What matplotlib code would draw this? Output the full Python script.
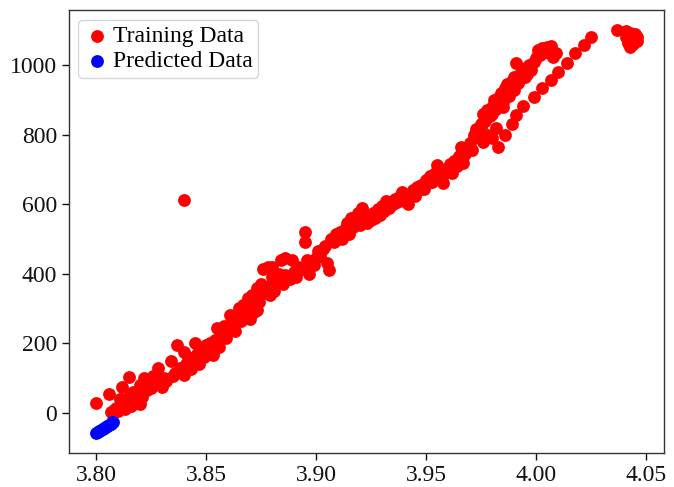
import matplotlib
matplotlib.use("Agg")
import matplotlib.pyplot as plt
from matplotlib.ticker import FormatStrFormatter

plt.rcParams['font.family'] = ['Liberation Serif', 'DejaVu Serif']

train_x = [3.800, 3.806, 3.807, 3.808, 3.809, 3.810, 3.811, 3.811, 3.812, 3.813, 3.814, 3.815, 3.815, 3.816, 3.817,
           3.818, 3.819, 3.820, 3.820, 3.821, 3.822, 3.823, 3.824, 3.825, 3.826, 3.827, 3.828, 3.829, 3.830, 3.831,
           3.832, 3.834, 3.835, 3.836, 3.837, 3.838, 3.839, 3.840, 3.840, 3.841, 3.842, 3.843, 3.844, 3.845, 3.846,
           3.847, 3.848, 3.849, 3.850, 3.851, 3.852, 3.853, 3.854, 3.855, 3.856, 3.857, 3.858, 3.859, 3.860, 3.861,
           3.862, 3.863, 3.864, 3.865, 3.866, 3.867, 3.868, 3.869, 3.870, 3.871, 3.872, 3.873, 3.874, 3.875, 3.876,
           3.877, 3.878, 3.879, 3.880, 3.880, 3.881, 3.882, 3.883, 3.884, 3.885, 3.886, 3.886, 3.888, 3.889, 3.890,
           3.891, 3.892, 3.894, 3.895, 3.895, 3.896, 3.897, 3.898, 3.899, 3.900, 3.901, 3.902, 3.903, 3.904, 3.905,
           3.906, 3.907, 3.908, 3.909, 3.910, 3.911, 3.912, 3.913, 3.914, 3.915, 3.916, 3.917, 3.918, 3.919, 3.920,
           3.921, 3.922, 3.923, 3.924, 3.925, 3.926, 3.927, 3.928, 3.929, 3.930, 3.931, 3.932, 3.933, 3.935, 3.936,
           3.937, 3.938, 3.939, 3.940, 3.941, 3.942, 3.943, 3.944, 3.945, 3.946, 3.947, 3.948, 3.949, 3.950, 3.951,
           3.952, 3.953, 3.954, 3.955, 3.956, 3.957, 3.958, 3.959, 3.960, 3.961, 3.962, 3.963, 3.964, 3.965, 3.966,
           3.967, 3.968, 3.969, 3.970, 3.971, 3.972, 3.973, 3.974, 3.975, 3.976, 3.976, 3.977, 3.978, 3.978, 3.979,
           3.980, 3.980, 3.981, 3.982, 3.982, 3.983, 3.984, 3.985, 3.986, 3.987, 3.988, 3.989, 3.990, 3.991, 3.992,
           3.993, 3.994, 3.995, 3.996, 3.997, 3.998, 3.999, 4.000, 4.001, 4.002, 4.003, 4.004, 4.005, 4.006, 4.007,
           4.008, 4.009,
           3.862, 3.866, 3.868, 3.871, 3.874, 3.877, 3.870, 3.873, 3.879, 3.882,
           3.972, 3.975, 3.977, 3.980, 3.983, 3.985, 3.988, 3.990, 3.993, 3.996, 3.998, 4.001, 4.004, 4.007,
           3.983, 3.986, 3.989, 3.991, 3.994, 3.999, 4.003, 4.007, 4.010, 4.014, 4.018, 4.022, 4.025,
           4.037, 4.041, 4.043, 4.044, 4.045, 4.046, 4.044, 4.043, 4.042, 4.041, 4.045, 4.046,
           3.840]
train_y = [28, 55, 2, 8, 15, 5, 20, 40, 74, 10, 30, 103, 45, 20, 60,
           35, 55, 80, 25, 45, 100, 65, 90, 70, 105, 85, 130, 95, 75, 100,
           90, 150, 105, 115, 195, 130, 120, 175, 110, 140, 160, 125, 150, 200, 170,
           140, 185, 160, 195, 175, 200, 165, 210, 245, 190, 225, 250, 215, 240, 280,
           260, 235, 275, 300, 265, 310, 285, 330, 300, 340, 290, 360, 320, 370, 415,
           345, 420, 365, 390, 420, 350, 380, 400, 440, 370, 395, 445, 385, 440, 405,
           390, 420, 415, 520, 490, 440, 400, 430, 425, 445, 465, 450, 470, 480, 430,
           410, 500, 490, 515, 505, 520, 500, 530, 545, 515, 560, 535, 550, 575, 540,
           590, 560, 545, 570, 555, 575, 560, 585, 570, 595, 580, 610, 590, 600, 615,
           605, 625, 635, 610, 625, 600, 630, 640, 625, 650, 640, 655, 645, 670, 660,
           680, 665, 690, 712, 680, 700, 660, 690, 705, 715, 690, 725, 710, 740, 765,
           720, 745, 760, 775, 755, 790, 815, 800, 830, 860, 780, 840, 800, 870, 855,
           880, 790, 900, 875, 820, 905, 920, 895, 935, 945, 925, 955, 965, 1005, 950,
           975, 985, 965, 995, 1000, 985, 1010, 1020, 1045, 1030, 1050, 1040, 1053, 1035, 1045,
           1025, 1035,
           245, 280, 300, 320, 340, 360, 270, 295, 340, 370,
           800, 820, 850, 860, 890, 880, 910, 930, 960, 975, 1000, 1030, 1050, 1055,
           765, 798, 832, 856, 882, 909, 933, 957, 981, 1005, 1034, 1058, 1080,
           1100, 1098, 1092, 1085, 1078, 1070, 1060, 1052, 1065, 1080, 1090, 1080,
           611]

pred_x = [3.8000, 3.8008, 3.8015, 3.8022, 3.8030, 3.8038, 3.8045, 3.8052, 3.8060, 3.8066, 3.8072, 3.8076]
pred_y = [-58, -55, -52, -49, -46, -43, -40, -37, -34, -31, -28, -26]

fig = plt.figure(figsize=(6.74, 4.87), dpi=100)
ax = fig.add_axes([0.1024, 0.0698, 0.8828, 0.909])
ax.scatter(train_x, train_y, s=85, c='red', linewidths=0, label='Training Data')
ax.scatter(pred_x, pred_y, s=85, c='blue', linewidths=0, label='Predicted Data')

ax.set_xticks([3.80, 3.85, 3.90, 3.95, 4.00, 4.05])
ax.xaxis.set_major_formatter(FormatStrFormatter('%.2f'))
ax.set_yticks([0, 200, 400, 600, 800, 1000])
ax.tick_params(labelsize=17, length=5, width=1, colors='#111111')
for sp in ax.spines.values():
    sp.set_color('#333333')
    sp.set_linewidth(1)

ax.legend(loc='upper left', fontsize=17, handletextpad=0.1, borderpad=0.25,
          handlelength=1.1, labelspacing=0.15, borderaxespad=0.4)

fig.savefig('out.png', dpi=100)
